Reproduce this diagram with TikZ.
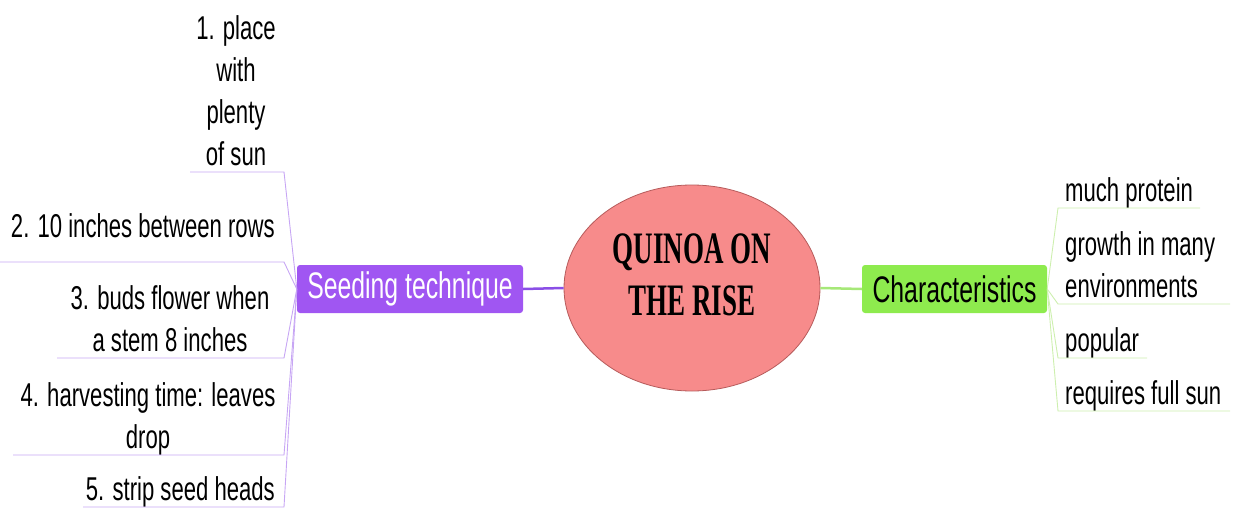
\documentclass[tikz,border=0pt]{standalone}
\usepackage{fontspec}
\setmainfont{Liberation Sans}[FakeStretch=0.67]
\newfontfamily\titlefont{Liberation Serif}[FakeStretch=0.6]
\usetikzlibrary{shapes.geometric}

\definecolor{seedpurple}{HTML}{A056F2}
\definecolor{seedline}{HTML}{C7A6F4}
\definecolor{seedlink}{HTML}{8A4FE6}
\definecolor{chargreen}{HTML}{8EEB4E}
\definecolor{charline}{HTML}{CDEFAE}
\definecolor{charlink}{HTML}{A6E878}
\definecolor{rootfill}{HTML}{F78B8B}
\definecolor{rootdraw}{HTML}{B65B5B}

\tikzset{
  rootshape/.style={ellipse, draw=rootdraw, fill=rootfill, line width=0.8pt,
    minimum width=256pt, minimum height=206pt, inner sep=0pt},
  roottitle/.style={align=center, inner sep=0pt, anchor=base,
    font=\titlefont\bfseries\fontsize{45}{52}\selectfont},
  branchbox/.style={rounded corners=3pt, inner sep=0pt,
    minimum height=48pt, font=\fontsize{37}{42}\selectfont},
  leaftext/.style={inner sep=0pt, anchor=base, align=center,
    font=\fontsize{33}{42}\selectfont, text=black},
  righttext/.style={inner sep=0pt, anchor=base west, align=left,
    font=\fontsize{33}{42}\selectfont, text=black},
  seedleaf/.style={draw=seedline, line width=0.9pt},
  charleaf/.style={draw=charline, line width=0.9pt},
}

\begin{document}
\begin{tikzpicture}[x=1pt, y=-1pt]
\useasboundingbox (0,0) rectangle (1237,511);

% central topic (multi-line nodes sit on the baseline of their last line)
\node[rootshape] (root) at (692,288) {};
\node[roottitle] (roottext) at (692,315) {QUINOA ON\\THE RISE};

% main branches
\node[branchbox, fill=seedpurple, text=white, minimum width=226pt] (seed) at (410,289) {Seeding technique};
\node[branchbox, fill=chargreen, text=black, minimum width=185pt] (char) at (954.5,289) {Characteristics};

\draw[seedlink, line width=2.5pt] (seed.east) -- (root.west);
\draw[charlink, line width=2.5pt] (root.east) -- (char.west);

% seeding technique steps
\node[leaftext] (s1) at (236,165) {1. place\\with\\plenty\\of sun};
\node[leaftext, anchor=base east] (s2) at (275,237) {2. 10 inches between rows};
\node[leaftext] (s3) at (170,351) {3. buds flower when\\a stem 8 inches};
\node[leaftext] (s4) at (148,448) {4. harvesting time: leaves\\drop};
\node[leaftext, anchor=base east] (s5) at (275,500) {5. strip seed heads};

\coordinate (s1a) at (190,172);  \coordinate (s1b) at (284,172);
\coordinate (s2a) at (0,262);    \coordinate (s2b) at (284,262);
\coordinate (s3a) at (57,358);   \coordinate (s3b) at (284,358);
\coordinate (s4a) at (13,455);   \coordinate (s4b) at (284,455);
\coordinate (s5a) at (83,507);   \coordinate (s5b) at (284,507);

\foreach \i in {1,...,5}
  \draw[seedleaf] (s\i a) -- (s\i b) -- (seed.west);

% characteristics
\node[righttext] (c1) at (1065,201) {much protein};
\node[righttext] (c2) at (1065,297) {growth in many\\environments};
\node[righttext] (c3) at (1065,351) {popular};
\node[righttext] (c4) at (1065,404) {requires full sun};

\coordinate (c1a) at (1058,208);  \coordinate (c1b) at (1200,208);
\coordinate (c2a) at (1058,304);  \coordinate (c2b) at (1230,304);
\coordinate (c3a) at (1058,358);  \coordinate (c3b) at (1147,358);
\coordinate (c4a) at (1058,411);  \coordinate (c4b) at (1230,411);

\foreach \i in {1,...,4}
  \draw[charleaf] (char.east) -- (c\i a) -- (c\i b);
\end{tikzpicture}
\end{document}
